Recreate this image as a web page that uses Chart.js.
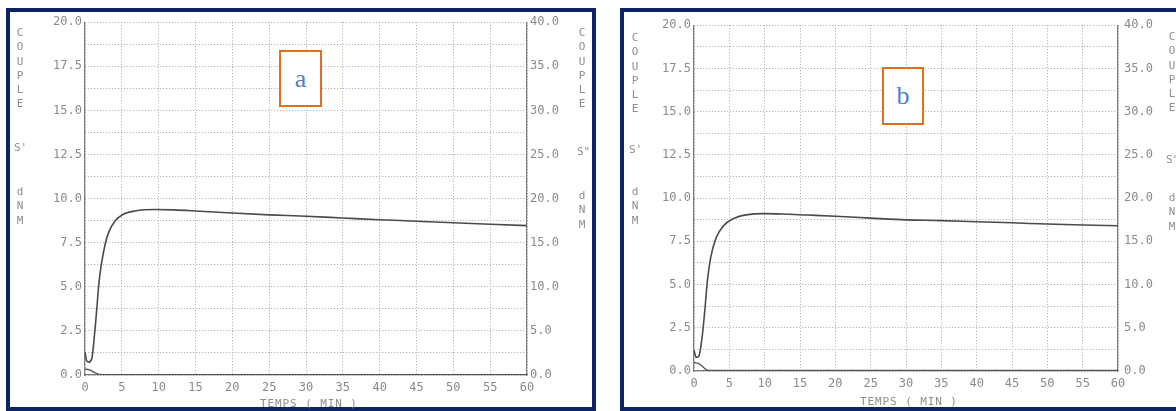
<!DOCTYPE html>
<html><head><meta charset="utf-8">
<script src="https://cdn.jsdelivr.net/npm/chart.js@4.4.1/dist/chart.umd.min.js"></script>
<style>
html,body{margin:0;padding:0;background:#fff;width:1176px;height:411px;overflow:hidden;position:relative;font-family:'DejaVu Sans Mono',monospace;}
.frame{position:absolute;border:4px solid #0d2463;box-sizing:border-box;background:#fff;}
canvas{position:absolute;}
.vt{position:absolute;color:#8e8e8e;font-size:11px;line-height:14.3px;text-align:center;width:12px;white-space:pre;}
.tag{position:absolute;border:2px solid #e0701c;box-sizing:border-box;color:#4f7fc4;font-family:'Liberation Serif',serif;font-size:26px;display:flex;align-items:center;justify-content:center;background:#fff;}
.xt{position:absolute;color:#8e8e8e;font-size:11px;letter-spacing:0.9px;white-space:pre;}
</style></head>
<body>
<div class="frame" style="left:6px;top:8px;width:590px;height:403px;"></div>
<div class="frame" style="left:620px;top:8px;width:600px;height:403px;"></div>
<canvas id="ca" width="582" height="396" style="left:10px;top:12px;"></canvas>
<canvas id="cb" width="552" height="396" style="left:624px;top:12px;"></canvas>
<div class="tag" style="left:279px;top:50px;width:43px;height:57px;">a</div>
<div class="tag" style="left:882px;top:67px;width:42px;height:58px;">b</div>
<div class="vt" style="left:14px;top:26px;">C
O
U
P
L
E</div>
<div class="vt" style="left:14px;top:141px;">S'</div>
<div class="vt" style="left:14px;top:185px;">d
N
M</div>
<div class="vt" style="left:576px;top:26px;">C
O
U
P
L
E</div>
<div class="vt" style="left:577px;top:145px;">S"</div>
<div class="vt" style="left:576px;top:189px;">d
N
M</div>
<div class="vt" style="left:629px;top:31px;">C
O
U
P
L
E</div>
<div class="vt" style="left:629px;top:143px;">S'</div>
<div class="vt" style="left:629px;top:185px;">d
N
M</div>
<div class="vt" style="left:1166px;top:30px;">C
O
U
P
L
E</div>
<div class="vt" style="left:1166px;top:153px;">S"</div>
<div class="vt" style="left:1166px;top:191px;">d
N
M</div>
<div class="xt" style="left:260px;top:397px;">TEMPS ( MIN )</div>
<div class="xt" style="left:860px;top:395px;">TEMPS ( MIN )</div>
<script>
// tick labels
const xTicks = [0,5,10,15,20,25,30,35,40,45,50,55,60];
const leftTicks = [0,2.5,5,7.5,10,12.5,15,17.5,20];
const rightTicks = [0,5,10,15,20,25,30,35,40];

// Panel a : S' (left axis, dNm) and S'' (right axis, dNm)
const timeA = [0,0.2,0.45,0.9,1.36,1.6,1.9,2.27,2.73,3.2,4.1,5.2,6.8,9.5,12,15,20,25,30,35,40,45,50,55,60];
const sPrimeA = [1.3,0.85,0.72,0.9,2.6,3.75,5.25,6.4,7.4,8.07,8.74,9.11,9.3,9.38,9.36,9.3,9.18,9.08,9.0,8.9,8.8,8.72,8.63,8.55,8.47];
const timeLossA = [0,0.7,1.4,2.0,3,60];
const sSecondA = [0.7,0.55,0.25,0.06,0.04,0.04];

// Panel b
const timeB = [0,0.33,0.7,1.2,1.57,1.9,2.38,3.1,4.05,5.5,7.4,10,12.5,16,20,25,30,35,40,45,50,55,60];
const sPrimeB = [1.2,0.78,0.87,2.14,3.69,5.24,6.6,7.67,8.35,8.8,9.03,9.1,9.08,9.02,8.95,8.84,8.74,8.7,8.63,8.57,8.5,8.44,8.4];
const timeLossB = [0,0.7,1.4,1.9,3,60];
const sSecondB = [0.97,0.85,0.38,0.08,0.05,0.05];

const GRAY = '#8a8a8a';
const FONT = {family:"'DejaVu Sans Mono', monospace", size:12};
const isTick = (arr, v) => arr.some(a => Math.abs(a - v) < 1e-6);

function build(id, t, sp, tl, sl, g) {
  new Chart(document.getElementById(id), {
    type: 'line',
    data: { datasets: [
      { data: t.map((x,i)=>({x:x, y:sp[i]})), yAxisID:'y', borderColor:'#4a4a4a', borderWidth:1.6,
        pointRadius:0, cubicInterpolationMode:'monotone', fill:false },
      { data: tl.map((x,i)=>({x:x, y:sl[i]})), yAxisID:'y2', borderColor:'#555', borderWidth:1.4,
        pointRadius:0, cubicInterpolationMode:'monotone', fill:false }
    ]},
    options: {
      responsive:false, animation:false, events:[],
      layout:{padding:{top:g.top, left:0, right:0, bottom:0}},
      plugins:{legend:{display:false}, tooltip:{enabled:false}},
      scales:{
        x:{ type:'linear', min:0, max:60,
            ticks:{stepSize:5, color:GRAY, font:FONT, padding:g.xpad, maxRotation:0,
                   callback:v => isTick(xTicks, v) ? String(v) : ''},
            grid:{color:'#a8a8a8', drawTicks:false, lineWidth:1},
            border:{dash:[1,2], color:'#7a7a7a', width:1.2},
            afterFit(s){ s.height = g.bottom; } },
        y:{ position:'left', min:0, max:20,
            ticks:{stepSize:1.25, color:GRAY, font:FONT, padding:3,
                   callback:v => isTick(leftTicks, v) ? v.toFixed(1) : ''},
            grid:{color:'#a8a8a8', drawTicks:false, lineWidth:1},
            border:{dash:[1,2], color:'#7a7a7a', width:1.2},
            afterFit(s){ s.width = g.left; } },
        y2:{ position:'right', min:0, max:40,
            ticks:{stepSize:5, color:GRAY, font:FONT, padding:g.rpad,
                   callback:v => isTick(rightTicks, v) ? v.toFixed(1) : ''},
            grid:{drawOnChartArea:false, drawTicks:false},
            border:{color:'#7a7a7a', width:1.2},
            afterFit(s){ s.width = g.right; } }
      }
    }
  });
}
build('ca', timeA, sPrimeA, timeLossA, sSecondA, {top:7, left:75, right:65, bottom:33, xpad:6, rpad:3});
build('cb', timeB, sPrimeB, timeLossB, sSecondB, {top:13, left:70, right:58, bottom:37, xpad:6, rpad:6});
</script>
</body></html>
